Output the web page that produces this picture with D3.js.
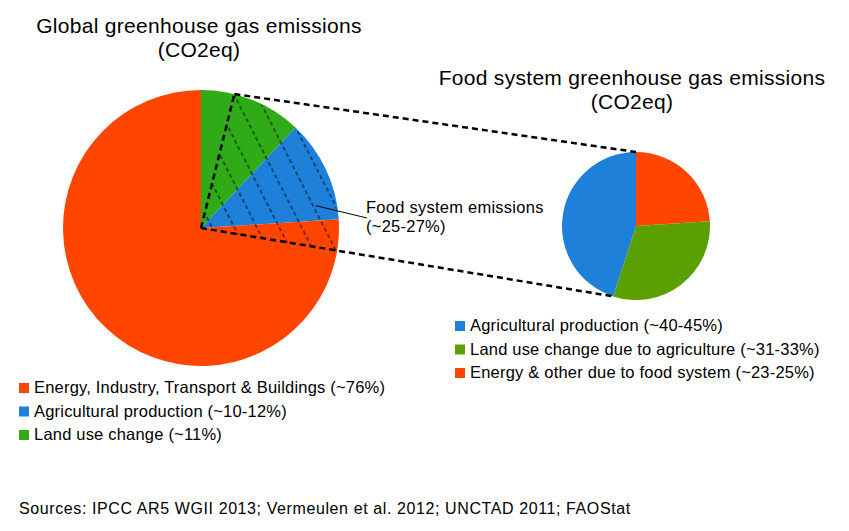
<!DOCTYPE html>
<html>
<head>
<meta charset="utf-8">
<script src="https://cdn.jsdelivr.net/npm/d3@7"></script>
<style>
  body { margin: 0; background: #fff; }
  text { font-family: "Liberation Sans", Arial, sans-serif; fill: #000; }
</style>
</head>
<body>
<svg></svg>
<script>
// Данные: глобальные выбросы (по часовой стрелке от 12 часов)
const globalLabels = ["Land use change (~11%)", "Agricultural production (~10-12%)", "Energy, Industry, Transport & Buildings (~76%)"];
const globalValues = [12, 12, 76];
const globalColors = ["#2fab18", "#1e80d8", "#ff4500"];
const globalLegendOrder = [2, 1, 0];

// Данные: выбросы продовольственной системы
const foodLabels = ["Energy & other due to food system (~23-25%)", "Land use change due to agriculture (~31-33%)", "Agricultural production (~40-45%)"];
const foodValues = [24, 31, 45];
const foodColors = ["#ff4500", "#5aa000", "#1e80d8"];
const foodLegendOrder = [2, 1, 0];

const width = 849, height = 531;
const svg = d3.select("svg").attr("width", width).attr("height", height);

const big = { cx: 201, cy: 228, r: 138 };
const small = { cx: 636, cy: 226, r: 74 };
const deg = Math.PI / 180;

// точка на окружности по углу (0 = вверх, по часовой)
function pt(c, a, r) {
    return [c.cx + r * Math.sin(a), c.cy - r * Math.cos(a)];
}

const pie = d3.pie().sort(null).value(d => d);

// Большой круг
const bigArc = d3.arc().innerRadius(0).outerRadius(big.r);
svg.append("g")
    .attr("transform", `translate(${big.cx},${big.cy})`)
    .selectAll("path")
    .data(pie(globalValues))
    .join("path")
    .attr("d", bigArc)
    .attr("fill", (d, i) => globalColors[i]);

// Штриховка сектора продовольственной системы
const hatchStart = 14 * deg, hatchEnd = 100 * deg;
const defs = svg.append("defs");
const pattern = defs.append("pattern")
    .attr("id", "hatch")
    .attr("patternUnits", "userSpaceOnUse")
    .attr("width", 20).attr("height", 14)
    .attr("patternTransform", "rotate(-27)");
pattern.append("line")
    .attr("x1", 10).attr("y1", 0).attr("x2", 10).attr("y2", 14)
    .attr("stroke", "#000").attr("stroke-width", 0.9)
    .attr("stroke-dasharray", "4,3");

svg.append("path")
    .attr("transform", `translate(${big.cx},${big.cy})`)
    .attr("d", d3.arc().innerRadius(0).outerRadius(big.r - 1)({ startAngle: hatchStart, endAngle: hatchEnd }))
    .attr("fill", "url(#hatch)");

// Малый круг
const smallArc = d3.arc().innerRadius(0).outerRadius(small.r);
const smallPie = pie(foodValues);
svg.append("g")
    .attr("transform", `translate(${small.cx},${small.cy})`)
    .selectAll("path")
    .data(smallPie)
    .join("path")
    .attr("d", smallArc)
    .attr("fill", (d, i) => foodColors[i]);

// Пунктирные линии-выноски
const pTop = pt(big, hatchStart, big.r);
const pSmallTop = pt(small, 0, small.r);
const pSmallBottom = pt(small, smallPie[1].endAngle, small.r);
const dashLines = [
    [[big.cx, big.cy], pTop],
    [pTop, pSmallTop],
    [[big.cx, big.cy], pSmallBottom]
];
svg.append("g")
    .selectAll("line")
    .data(dashLines)
    .join("line")
    .attr("x1", d => d[0][0]).attr("y1", d => d[0][1])
    .attr("x2", d => d[1][0]).attr("y2", d => d[1][1])
    .attr("stroke", "#000")
    .attr("stroke-width", 2.5)
    .attr("stroke-dasharray", "6,4");

// Заголовки
function title(x, y, lines) {
    svg.append("text")
        .attr("text-anchor", "middle")
        .attr("font-size", 21)
        .attr("letter-spacing", 0.3)
        .selectAll("tspan")
        .data(lines)
        .join("tspan")
        .attr("x", x)
        .attr("y", (d, i) => y + i * 24)
        .text(d => d);
}
title(199, 33, ["Global greenhouse gas emissions", "(CO2eq)"]);
title(632, 85, ["Food system greenhouse gas emissions", "(CO2eq)"]);

// Подпись сектора
const lead = pt(big, 79 * deg, 117);
svg.append("line")
    .attr("x1", lead[0]).attr("y1", lead[1])
    .attr("x2", 367).attr("y2", 218)
    .attr("stroke", "#000").attr("stroke-width", 1);
svg.append("text")
    .attr("font-size", 16.5)
    .attr("letter-spacing", 0.25)
    .selectAll("tspan")
    .data(["Food system emissions", "(~25-27%)"])
    .join("tspan")
    .attr("x", 366)
    .attr("y", (d, i) => 213 + i * 19)
    .text(d => d);

// Легенды
function legend(x, y, order, labels, colors) {
    const g = svg.append("g").attr("transform", `translate(${x},${y})`);
    const rows = g.selectAll("g")
        .data(order)
        .join("g")
        .attr("transform", (d, i) => `translate(0,${i * 23.5})`);
    rows.append("rect")
        .attr("x", 0).attr("y", -10)
        .attr("width", 10).attr("height", 10)
        .attr("fill", d => colors[d]);
    rows.append("text")
        .attr("x", 15).attr("y", 0)
        .attr("font-size", 16.5)
        .attr("letter-spacing", 0.2)
        .text(d => labels[d]);
}
legend(19, 393, globalLegendOrder, globalLabels, globalColors);
legend(455, 331, foodLegendOrder, foodLabels, foodColors);

// Источники
svg.append("text")
    .attr("x", 19).attr("y", 514)
    .attr("font-size", 16)
    .attr("letter-spacing", 0.6)
    .text("Sources: IPCC AR5 WGII 2013; Vermeulen et al. 2012; UNCTAD 2011; FAOStat");
</script>
</body>
</html>
